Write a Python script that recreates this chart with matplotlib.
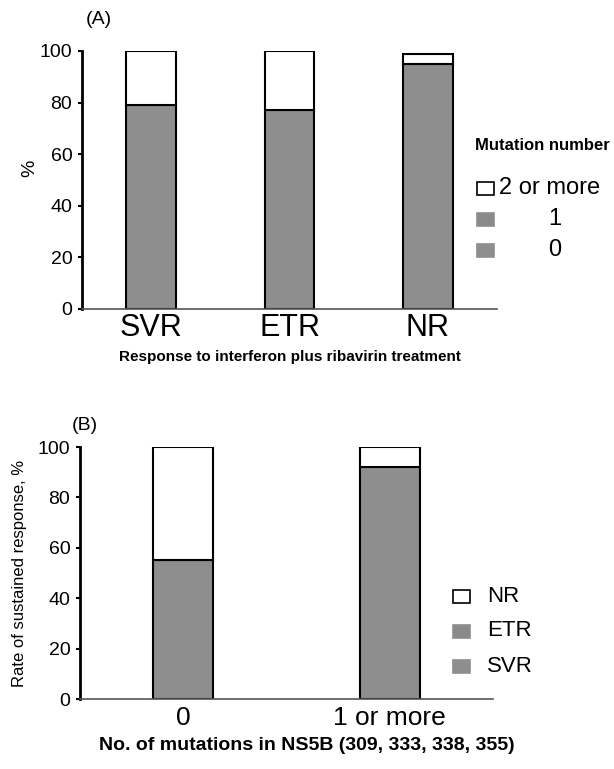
import matplotlib
matplotlib.use("Agg")
import matplotlib.pyplot as plt
from matplotlib.patches import Rectangle
import numpy as np

plt.rcParams['font.family'] = ['Liberation Sans', 'DejaVu Sans']

# Panel A data
a_categories = ["SVR", "ETR", "NR"]
a_mut0 = [79, 77, 95]
a_mut1 = [0, 0, 0]
a_mut2plus = [21, 23, 4]
a_legend = ["2 or more", "1", "0"]

# Panel B data
b_categories = ["0", "1 or more"]
b_svr = [55, 92]
b_etr = [0, 0]
b_nr = [45, 8]
b_legend = ["NR", "ETR", "SVR"]

yticks = [0, 20, 40, 60, 80, 100]

GRAY = '#8e8e8e'
GRAY1 = '#8a8a8a'

fig = plt.figure(figsize=(6.14, 7.69), dpi=100)

def style(ax):
    ax.spines['top'].set_visible(False)
    ax.spines['right'].set_visible(False)
    ax.spines['left'].set_linewidth(2)
    ax.spines['bottom'].set_linewidth(1.2)
    ax.spines['bottom'].set_color('#555555')
    ax.set_ylim(0, 100)
    ax.set_yticks(yticks)
    ax.tick_params(axis='y', direction='out', length=3, width=1.5, labelsize=14, pad=4)
    ax.tick_params(axis='x', length=0)

# ---- Panel A ----
axA = fig.add_axes([82/614, 1-309/769, (497-82)/614, (309-51)/769])
x = np.arange(len(a_categories))
w = 0.36
b0 = np.array(a_mut0)
b1 = np.array(a_mut1)
b2 = np.array(a_mut2plus)
axA.bar(x, b0, w, color=GRAY, edgecolor='black', linewidth=1.5)
axA.bar(x, b1, w, bottom=b0, color=GRAY1, edgecolor='none', linewidth=0)
axA.bar(x, b2, w, bottom=b0 + b1, color='white', edgecolor='black', linewidth=1.5)
axA.set_xlim(-0.5, 2.5)
axA.set_xticks(x)
axA.set_xticklabels(a_categories, fontsize=22)
axA.tick_params(axis='x', pad=3)
style(axA)
axA.set_xlabel("Response to interferon plus ribavirin treatment", fontsize=11,
               fontweight='bold', labelpad=5)
fig.text(30/614, 1-168/769, "%", fontsize=14, rotation=90, va='center', ha='center')
fig.text(86/614, 1-20/769, "(A)", fontsize=14, va='center', ha='left')

# legend A
fig.text(475/614, 1-145/769, "Mutation number", fontsize=12, fontweight='bold',
         va='center', ha='left')
lega_y = [188, 219, 250]
lega_col = ['white', GRAY1, GRAY]
lega_x = [499, 555, 555]
lega_ha = ['left', 'center', 'center']
for yy, c, lab, tx, ha in zip(lega_y, lega_col, a_legend, lega_x, lega_ha):
    fig.add_artist(Rectangle((477/614, 1-(yy+7)/769), 17/614, 13/769,
                             transform=fig.transFigure, facecolor=c,
                             edgecolor='black' if c == 'white' else GRAY, linewidth=1.2))
    fig.text(tx/614, 1-yy/769, lab, fontsize=17, va='center', ha=ha)

# ---- Panel B ----
axB = fig.add_axes([80/614, 1-699/769, (493-80)/614, (699-447)/769])
xb = np.arange(len(b_categories))
wb = 0.29
s = np.array(b_svr)
e = np.array(b_etr)
n = np.array(b_nr)
axB.bar(xb, s, wb, color=GRAY, edgecolor='black', linewidth=1.5)
axB.bar(xb, e, wb, bottom=s, color=GRAY1, edgecolor='none', linewidth=0)
axB.bar(xb, n, wb, bottom=s + e, color='white', edgecolor='black', linewidth=1.5)
axB.set_xlim(-0.5, 1.5)
axB.set_xticks(xb)
axB.set_xticklabels(b_categories, fontsize=19)
axB.tick_params(axis='x', pad=5)
style(axB)
fig.text(307/614, 1-745/769, "No. of mutations in NS5B (309, 333, 338, 355)",
         fontsize=14, fontweight='bold', va='center', ha='center')
axB.set_ylabel("Rate of sustained response, %", fontsize=12, labelpad=8)
fig.text(72/614, 1-425/769, "(B)", fontsize=14, va='center', ha='left')

legb_y = [596, 631, 666]
legb_col = ['white', GRAY1, GRAY]
for yy, c, lab in zip(legb_y, legb_col, b_legend):
    fig.add_artist(Rectangle((453/614, 1-(yy+7)/769), 17/614, 13/769,
                             transform=fig.transFigure, facecolor=c,
                             edgecolor='black' if c == 'white' else GRAY, linewidth=1.2))
    fig.text(487/614, 1-yy/769, lab, fontsize=16, va='center', ha='left')

fig.savefig("out.png", dpi=100)
